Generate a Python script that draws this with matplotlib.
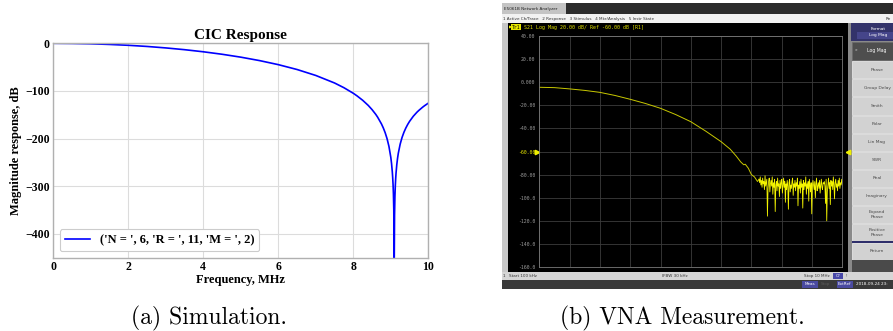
import numpy as np
import matplotlib
matplotlib.use("Agg")
import matplotlib.pyplot as plt
from matplotlib.patches import Rectangle
from matplotlib.transforms import blended_transform_factory

W, H = 893, 331

# ---------------- (a) simulated CIC response ----------------
cic_N, cic_R, cic_M = 6, 11, 2
sim_freq_mhz = [0, 0.5, 1, 1.5, 2, 2.5, 3, 3.5, 4, 4.5, 5, 5.5, 6, 6.5, 7, 7.5, 7.75,
                8, 8.1, 8.25, 8.4, 8.5, 8.6, 8.65, 8.75, 8.8, 8.85, 8.9, 8.95, 9.0,
                9.02, 9.04, 9.05, 9.06, 9.07, 9.08, 9.09, 9.1, 9.11, 9.12, 9.13, 9.14,
                9.16, 9.18, 9.2, 9.25, 9.3, 9.35, 9.4, 9.45, 9.5, 9.6, 9.7, 9.75, 9.85,
                9.9, 10]
sim_db = [0, -0.3, -1.0, -2.4, -4.2, -6.6, -9.7, -13.4, -17.8, -23.0, -29.1, -36.3,
          -44.8, -55.0, -67.5, -83.3, -93.2, -104.9, -110.4, -119.6, -130.5, -139.2,
          -149.3, -155.2, -169.1, -177.6, -187.7, -200.1, -216.2, -239.3, -252.4,
          -269.8, -281.2, -295.9, -316.3, -350.3, -480.0, -359.9, -321.3, -299.4,
          -284.0, -272.2, -254.5, -241.4, -230.9, -211.6, -197.6, -186.8, -177.9,
          -170.4, -163.9, -153.1, -144.4, -140.7, -134.0, -131.0, -125.6]
sim_xticks = [0, 2, 4, 6, 8, 10]
sim_yticks = [0, -100, -200, -300, -400]

vna_start_mhz, vna_stop_mhz = 0.1, 10.0
vna_ref_db, vna_scale_db = -60.0, 20.0
vna_smooth_freq = [0.1, 0.595, 1.09, 1.585, 2.08, 2.575, 3.07, 3.565, 4.06, 4.555,
                   5.05, 5.545, 6.04, 6.337, 6.535, 6.68, 6.78, 6.83, 6.93, 7.03,
                   7.13, 7.23, 7.28]
vna_smooth_db = [-4.4, -4.7, -5.8, -7.1, -8.8, -11.5, -14.8, -18.4, -22.6, -28.0,
                 -34.2, -42.5, -51.5, -58.0, -64.0, -69.0, -71.5, -71.0, -74.5,
                 -80.0, -82.0, -86.0, -84.0]
vna_noise_db = [-84, -87, -82, -89, -85, -91, -83, -88, -86, -93, -81, -90, -87, -84,
                -116, -92, -86, -83, -95, -88,
                -85, -90, -82, -97, -87, -91, -84, -112, -89, -86, -94, -83, -90, -88,
                -99, -85, -92, -87, -84, -96,
                -89, -83, -91, -86, -104, -88, -93, -85, -90, -110, -87, -84, -95, -89,
                -92, -86, -83, -98, -88, -91,
                -85, -94, -87, -90, -83, -107, -89, -92, -86, -96, -84, -91, -88, -109,
                -85, -93, -87, -90, -82, -97,
                -88, -92, -86, -103, -84, -90, -95, -87, -114, -91, -85, -89, -93, -86,
                -100, -88, -83, -94, -90, -87,
                -92, -85, -96, -89, -84, -91, -93, -87, -88, -86, -90, -105, -84, -120,
                -95, -89, -83, -92, -87, -106,
                -85, -90, -86, -93, -82, -89, -101, -87, -84, -91, -88, -94, -85, -90,
                -83, -92, -87, -89, -84, -88]
vna_noise_start_mhz = 7.28
vna_ylabels = ["40.00", "20.00", "0.000", "-20.00", "-40.00", "-60.00", "-80.00",
               "-100.0", "-120.0", "-140.0", "-160.0"]
menu_items = "1 Active Ch/Trace   2 Response   3 Stimulus   4 Mkr/Analysis   5 Instr State"
button_labels = ["Phase", "Group Delay", "Smith", "Polar", "Lin Mag", "SWR", "Real",
                 "Imaginary", "Expand\nPhase", "Positive\nPhase"]
captions = ["(a) Simulation.", "(b) VNA Measurement."]

plt.rcParams['font.family'] = ['Liberation Serif', 'DejaVu Serif']
plt.rcParams['font.weight'] = 'bold'

fig = plt.figure(figsize=(W / 100, H / 100), dpi=100)
bg = fig.add_axes([0, 0, 1, 1], zorder=0)
bg.set_xlim(0, W)
bg.set_ylim(H, 0)
bg.axis('off')


def rect(x0, y0, x1, y1, color, ec='none', lw=0):
    bg.add_patch(Rectangle((x0, y0), x1 - x0, y1 - y0, facecolor=color,
                           edgecolor=ec, linewidth=lw))


def txt(x, y, s, size=3.3, color='#333333', ha='left', family='DejaVu Sans', **kw):
    bg.text(x, y, s, size=size, color=color, ha=ha, va='center', family=family,
            weight='normal', **kw)


# ---------------- left panel ----------------
ax1 = fig.add_axes([53.3 / W, 1 - 257.7 / H, 375 / W, (257.7 - 43.3) / H], zorder=2)
label = str(('N = ', cic_N, 'R = ', cic_R, 'M = ', cic_M))
ax1.plot(sim_freq_mhz, sim_db, color='blue', lw=1.2, label=label)
ax1.set_xlim(0, 10)
ax1.set_ylim(-450, 0)
ax1.set_xticks(sim_xticks)
ax1.set_yticks(sim_yticks)
ax1.grid(color='#dcdcdc', lw=0.8)
ax1.set_axisbelow(True)
for s in ax1.spines.values():
    s.set_color('#b0b0b0')
    s.set_linewidth(1.0)
ax1.tick_params(length=0, pad=2.5, labelsize=8.5)
ax1.set_title('CIC Response', fontsize=11, fontweight='bold', pad=3)
ax1.set_xlabel('Frequency, MHz', fontsize=9, fontweight='bold', labelpad=0.5)
ax1.set_ylabel('Magnitude response, dB', fontsize=9, fontweight='bold', labelpad=2)
leg = ax1.legend(loc='lower left', fontsize=9, borderaxespad=0.5, fancybox=True,
                 framealpha=1, edgecolor='#cccccc', handlelength=2.0)
leg.get_frame().set_linewidth(0.8)

# ---------------- right panel: analyzer window chrome ----------------
rect(502, 3, W, 289, '#c8c8c8')
rect(502, 3, W, 14, '#2c2c2c')                # title bar
rect(502, 3, 566, 14, '#c4c4c4')
txt(504, 8.7, 'E5061B Network Analyzer', size=3.0, color='#202020')
rect(502, 14, W, 23, '#f2f2f2')               # menu bar
txt(503, 18.8, menu_items, size=3.0, color='#303030')
txt(886, 18.8, 'Re', size=3.0, color='#303030')
rect(508, 23, 848, 272, '#000000')            # black trace area
rect(848, 23, W, 272, '#8a8a8a')              # softkey panel background

# header line
txt(508.5, 27.3, '\u25b6', size=3.2, color='#f0f000', family='DejaVu Sans')
txt(512, 27.3, 'Tr1', size=3.4, color='#000000', family='DejaVu Sans Mono',
    bbox=dict(facecolor='#e6e600', edgecolor='none', pad=0.4))
txt(524, 27.3, 'S21 Log Mag %.2f dB/ Ref %.2f dB [R1]' % (vna_scale_db, vna_ref_db),
    size=3.6, color='#e0e000', family='DejaVu Sans Mono')

# softkeys
rect(851, 23, W, 40.7, '#33336a')
txt(878, 29, 'Format', size=3.2, color='#ffffff', ha='center')
rect(857, 31.5, W, 38.8, '#45458a')
txt(878, 35.3, 'Log Mag', size=3.2, color='#ffffff', ha='center')
rect(852, 41.5, W + 5, 60, '#4e4e4e', ec='#6a6a6a', lw=0.5)
txt(855, 50.5, '\u00bb', size=3.2, color='#ffffff')
txt(877, 50.5, 'Log Mag', size=3.3, color='#ffffff', ha='center')
y0, step = 60.7, 18.1
for i, lab in enumerate(button_labels):
    top = y0 + i * step
    rect(852, top + 0.5, W + 5, top + step - 0.5, '#d2d2d2', ec='#f0f0f0', lw=0.5)
    txt(877, top + step / 2, lab, size=3.2, color='#4a4a4a', ha='center',
        linespacing=1.2)
rect(852, 241, W, 242.7, '#2e2e6a')
rect(852, 243.2, W + 5, 259.5, '#d2d2d2', ec='#f0f0f0', lw=0.5)
txt(877, 251.3, 'Return', size=3.2, color='#4a4a4a', ha='center')
rect(852, 260, W, 272, '#4a4a4a')

# status bar & taskbar
rect(502, 272, W, 280, '#d6d6d6')
txt(503, 276, '1', size=3.0)
txt(509, 276, 'Start 100 kHz', size=3.0)
txt(675, 276, 'IFBW 30 kHz', size=3.0, ha='center')
txt(817, 276, 'Stop 10 MHz', size=3.0, ha='center')
rect(833, 273.2, 842.5, 278.8, '#4848a8')
txt(837.7, 276, 'C?', size=2.8, color='#ffffff', ha='center')
txt(845, 276, '!', size=3.0)
rect(502, 280, W, 289, '#3a3a3a')
rect(801.5, 281, 818, 287.5, '#4a4aa0')
txt(809.7, 284.3, 'Meas', size=3.0, color='#ffffff', ha='center')
txt(825, 284.3, 'Stop', size=3.0, color='#5a5a5a', ha='center')
rect(836.5, 281, 853, 287.5, '#4a4aa0')
txt(844.7, 284.3, 'ExtRef', size=3.0, color='#ffffff', ha='center')
txt(856, 284.3, '2018-09-24 23:', size=3.0, color='#ffffff')

# trace axes
ax2 = fig.add_axes([539.3 / W, 1 - 267 / H, (842.3 - 539.3) / W, (267 - 36) / H],
                   zorder=2)
ax2.set_facecolor('black')
top_db = vna_ref_db + 5 * vna_scale_db
bot_db = vna_ref_db - 5 * vna_scale_db
ax2.set_xlim(vna_start_mhz, vna_stop_mhz)
ax2.set_ylim(bot_db, top_db)
ax2.set_xticks(np.linspace(vna_start_mhz, vna_stop_mhz, 11))
ax2.set_xticklabels([])
yt = np.linspace(top_db, bot_db, 11)
ax2.set_yticks(yt)
ax2.set_yticklabels(vna_ylabels, family='DejaVu Sans Mono', fontsize=3.5,
                    fontweight='normal', color='#9a9a9a')
for t, lab in zip(ax2.get_yticklabels(), vna_ylabels):
    if lab == '%.2f' % vna_ref_db:
        t.set_color('#e8e800')
ax2.tick_params(length=0, pad=3.0)
ax2.grid(color='#3c3c3c', lw=0.6)
for s in ax2.spines.values():
    s.set_color('#7a7a7a')
    s.set_linewidth(0.6)
noise_freq = np.linspace(vna_noise_start_mhz, vna_stop_mhz, len(vna_noise_db))
ax2.plot(vna_smooth_freq, vna_smooth_db, color='#c8c800', lw=0.7)
ax2.plot(noise_freq, vna_noise_db, color='#f4f400', lw=0.6)
bt = blended_transform_factory(ax2.transAxes, ax2.transData)
ax2.plot([-0.006], [vna_ref_db], marker='>', ms=3.2, color='#f0f000', transform=bt,
         clip_on=False, lw=0)
ax2.plot([1.02], [vna_ref_db], marker='<', ms=3.2, color='#f0f000', transform=bt,
         clip_on=False, lw=0)

# captions
for cx, cap in zip([209, 682], captions):
    fig.text(cx / W, 1 - 318 / H, cap, ha='center', va='center', family='cmr10',
             fontsize=17, weight='normal')

fig.savefig('out.png', dpi=100)
